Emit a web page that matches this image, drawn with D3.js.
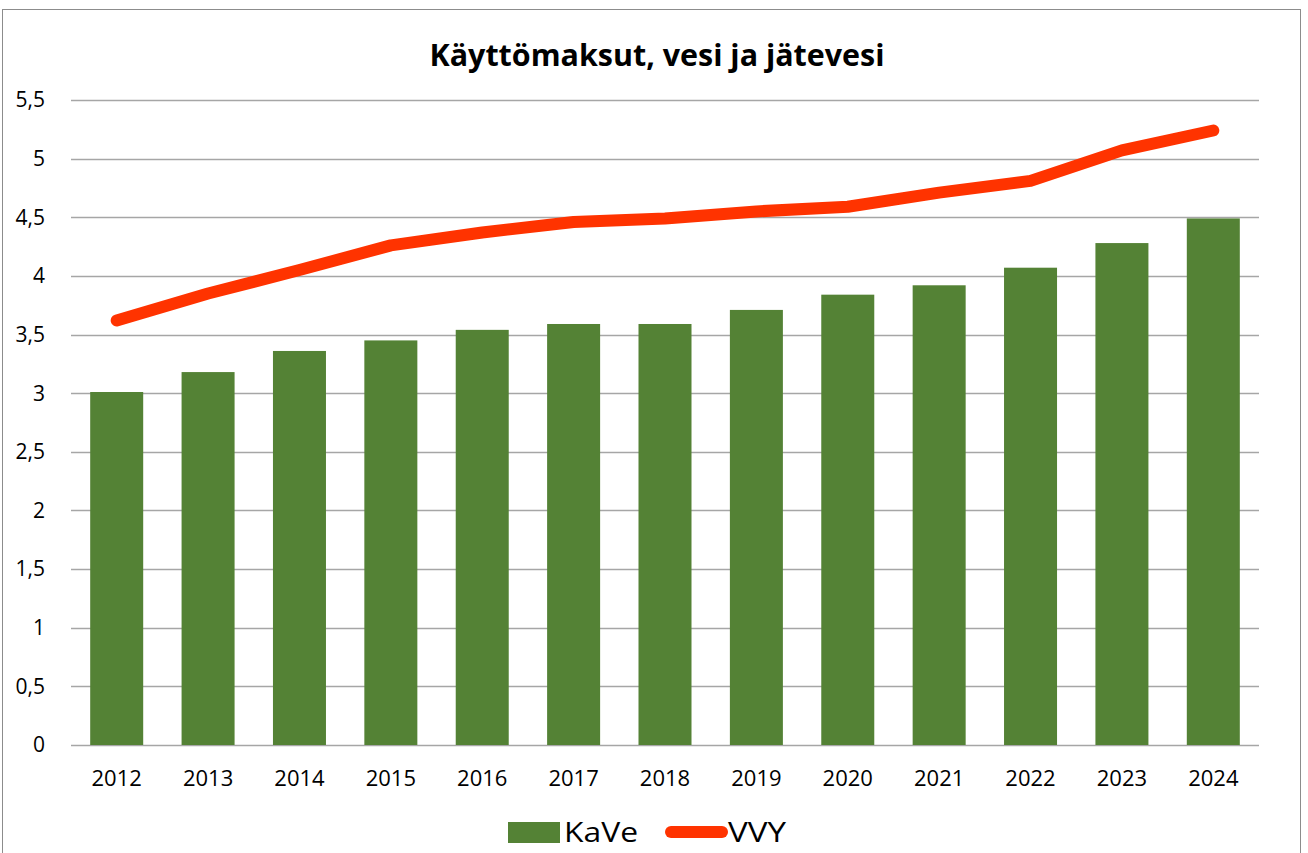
<!DOCTYPE html>
<html>
<head>
<meta charset="utf-8">
<script src="https://cdn.jsdelivr.net/npm/d3@7"></script>
<style>
  body { margin: 0; background: #fff; }
  svg { display: block; font-family: "Open Sans", "DejaVu Sans", sans-serif; }
</style>
</head>
<body>
<svg id="chart" width="1308" height="853"></svg>
<script>
const years = ["2012", "2013", "2014", "2015", "2016", "2017", "2018", "2019", "2020", "2021", "2022", "2023", "2024"];
const kave = [3.01, 3.18, 3.36, 3.45, 3.54, 3.59, 3.59, 3.71, 3.84, 3.92, 4.07, 4.28, 4.49];
const vvy = [3.62, 3.85, 4.05, 4.26, 4.37, 4.46, 4.49, 4.55, 4.59, 4.71, 4.81, 5.07, 5.24];
const yTicks = [0, 0.5, 1, 1.5, 2, 2.5, 3, 3.5, 4, 4.5, 5, 5.5];

const svg = d3.select("#chart");
const margin = { left: 71, right: 1259, top: 100, bottom: 745 };

// outer chart border
svg.append("rect")
  .attr("x", 2.5).attr("y", 9.5)
  .attr("width", 1298).attr("height", 860)
  .attr("fill", "none").attr("stroke", "#8c8c8c").attr("stroke-width", 1);

svg.append("text")
  .attr("x", 657).attr("y", 66)
  .attr("text-anchor", "middle")
  .attr("font-size", 30).attr("font-weight", "bold")
  .attr("textLength", 455).attr("lengthAdjust", "spacingAndGlyphs")
  .text("Käyttömaksut, vesi ja jätevesi");

const x = d3.scaleBand().domain(years).range([margin.left, margin.right]).paddingInner(0.42).paddingOuter(0.21);
const y = d3.scaleLinear().domain([0, 5.5]).range([margin.bottom, margin.top]);

// gridlines
svg.append("g")
  .selectAll("line")
  .data(yTicks)
  .join("line")
  .attr("x1", margin.left).attr("x2", margin.right)
  .attr("y1", (d) => Math.round(y(d)) + 0.5).attr("y2", (d) => Math.round(y(d)) + 0.5)
  .attr("stroke", "#a6a6a6").attr("stroke-width", 1.5);

// y labels
svg.append("g")
  .selectAll("text")
  .data(yTicks)
  .join("text")
  .attr("x", 45).attr("y", (d) => y(d))
  .attr("dy", "0.35em")
  .attr("text-anchor", "end")
  .attr("font-size", 21).attr("fill", "#000")
  .text((d) => String(d).replace(".", ","));

// bars
svg.append("g")
  .selectAll("rect")
  .data(kave)
  .join("rect")
  .attr("x", (d, i) => x(years[i]))
  .attr("y", (d) => y(d))
  .attr("width", x.bandwidth())
  .attr("height", (d) => y(0) - y(d))
  .attr("fill", "#548235");

// x labels
svg.append("g")
  .selectAll("text")
  .data(years)
  .join("text")
  .attr("x", (d) => x(d) + x.bandwidth() / 2)
  .attr("y", 786)
  .attr("text-anchor", "middle")
  .attr("font-size", 22).attr("fill", "#000")
  .text((d) => d);

// line
const line = d3.line()
  .x((d, i) => x(years[i]) + x.bandwidth() / 2)
  .y((d) => y(d));

svg.append("path")
  .datum(vvy)
  .attr("d", line)
  .attr("fill", "none")
  .attr("stroke", "#ff3300")
  .attr("stroke-width", 12)
  .attr("stroke-linecap", "round")
  .attr("stroke-linejoin", "round");

// legend
const legend = svg.append("g");
legend.append("rect")
  .attr("x", 508).attr("y", 822).attr("width", 52).attr("height", 21)
  .attr("fill", "#548235");
legend.append("text")
  .attr("x", 564).attr("y", 842)
  .attr("font-size", 28).attr("fill", "#000")
  .attr("textLength", 74).attr("lengthAdjust", "spacingAndGlyphs")
  .text("KaVe");
legend.append("line")
  .attr("x1", 671).attr("x2", 722).attr("y1", 832).attr("y2", 832)
  .attr("stroke", "#ff3300").attr("stroke-width", 12).attr("stroke-linecap", "round");
legend.append("text")
  .attr("x", 728).attr("y", 842)
  .attr("font-size", 28).attr("fill", "#000")
  .attr("textLength", 58).attr("lengthAdjust", "spacingAndGlyphs")
  .text("VVY");
</script>
</body>
</html>
